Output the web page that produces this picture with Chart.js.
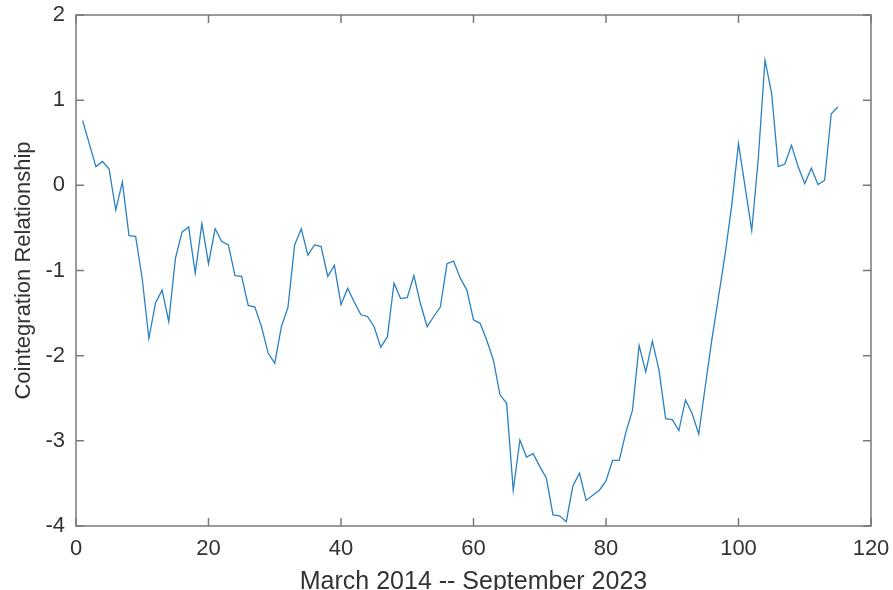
<!DOCTYPE html>
<html>
<head>
<meta charset="utf-8">
<script src="https://cdn.jsdelivr.net/npm/chart.js@4"></script>
<style>
  html, body { margin: 0; padding: 0; background: #fff; }
  #wrap { width: 893px; height: 590px; }
</style>
</head>
<body>
<div id="wrap"><canvas id="coint" width="893" height="590"></canvas></div>
<script>
// cointegration relationship, one value per observation (March 2014 .. September 2023)
const relation = [
  0.76, 0.49, 0.22, 0.28, 0.19, -0.29, 0.04, -0.59, -0.60, -1.10,
  -1.80, -1.38, -1.23, -1.60, -0.86, -0.55, -0.49, -1.03, -0.45, -0.92,
  -0.51, -0.66, -0.70, -1.06, -1.07, -1.41, -1.43, -1.66, -1.97, -2.09,
  -1.66, -1.43, -0.70, -0.51, -0.82, -0.70, -0.72, -1.07, -0.94, -1.40,
  -1.21, -1.37, -1.52, -1.54, -1.66, -1.90, -1.78, -1.15, -1.33, -1.32,
  -1.06, -1.39, -1.66, -1.54, -1.43, -0.92, -0.89, -1.09, -1.23, -1.58,
  -1.62, -1.82, -2.05, -2.46, -2.56, -3.58, -2.99, -3.19, -3.15, -3.30,
  -3.44, -3.87, -3.88, -3.95, -3.53, -3.38, -3.70, -3.64, -3.58, -3.47,
  -3.23, -3.23, -2.90, -2.64, -1.88, -2.19, -1.83, -2.17, -2.74, -2.75,
  -2.88, -2.52, -2.68, -2.92, -2.35, -1.80, -1.30, -0.80, -0.22, 0.49,
  -0.02, -0.53, 0.33, 1.47, 1.08, 0.22, 0.25, 0.47, 0.22, 0.02,
  0.20, 0.01, 0.06, 0.84, 0.92
];
// observation number on the x axis
const obsIndex = relation.map((_, i) => i + 1);

const xTicks = [0, 20, 40, 60, 80, 100, 120];
const yTicks = [-4, -3, -2, -1, 0, 1, 2];
const xTitle = "March 2014 -- September 2023";
const yTitle = "Cointegration Relationship";

const FONT = "'Liberation Sans', Arial, Helvetica, sans-serif";
const TEXT = "#333333";
const AXIS = "#7a7a7a";

// matlab style box with inward ticks on all four sides
const boxPlugin = {
  id: "matlabBox",
  afterDraw(chart) {
    const { ctx, chartArea: a, scales } = chart;
    const len = 8;
    ctx.save();
    ctx.strokeStyle = AXIS;
    ctx.lineWidth = 1.5;
    ctx.strokeRect(a.left, a.top, a.right - a.left, a.bottom - a.top);
    ctx.beginPath();
    scales.x.ticks.forEach((t) => {
      const px = scales.x.getPixelForValue(t.value);
      ctx.moveTo(px, a.bottom); ctx.lineTo(px, a.bottom - len);
      ctx.moveTo(px, a.top); ctx.lineTo(px, a.top + len);
    });
    scales.y.ticks.forEach((t) => {
      const py = scales.y.getPixelForValue(t.value);
      ctx.moveTo(a.left, py); ctx.lineTo(a.left + len, py);
      ctx.moveTo(a.right, py); ctx.lineTo(a.right - len, py);
    });
    ctx.stroke();
    ctx.restore();
  },
};

// no extra room for overhanging tick labels, the box sits where padding says
function noOverhang(s) {
  s.paddingLeft = 0; s.paddingRight = 0;
  s.paddingTop = 0; s.paddingBottom = 0;
}

new Chart(document.getElementById("coint"), {
  type: "line",
  data: {
    datasets: [{
      data: obsIndex.map((x, i) => ({ x, y: relation[i] })),
      borderColor: "#2a80c4",
      borderWidth: 1.3,
      pointRadius: 0,
      tension: 0,
      fill: false,
    }],
  },
  options: {
    responsive: false,
    animation: false,
    devicePixelRatio: 1,
    layout: { padding: { left: 0, right: 22, top: 15, bottom: 0 } },
    plugins: { legend: { display: false }, tooltip: { enabled: false } },
    scales: {
      x: {
        type: "linear",
        min: 0,
        max: 120,
        afterBuildTicks: (s) => { s.ticks = xTicks.map((v) => ({ value: v })); },
        afterFit: (s) => { s.height = 64; noOverhang(s); },
        grid: { display: false, drawTicks: false },
        border: { display: false },
        ticks: { color: TEXT, padding: 10, font: { family: FONT, size: 22 }, maxRotation: 0 },
        title: {
          display: true,
          text: xTitle,
          color: TEXT,
          font: { family: FONT, size: 25 },
          padding: { top: 0, bottom: -7 },
        },
      },
      y: {
        min: -4,
        max: 2,
        afterBuildTicks: (s) => { s.ticks = yTicks.map((v) => ({ value: v })); },
        afterFit: (s) => { s.width = 76; noOverhang(s); },
        grid: { display: false, drawTicks: false },
        border: { display: false },
        ticks: { color: TEXT, padding: 11, font: { family: FONT, size: 22 } },
        title: {
          display: true,
          text: yTitle,
          color: TEXT,
          font: { family: FONT, size: 22 },
          padding: { top: 11, bottom: 0 },
        },
      },
    },
  },
  plugins: [boxPlugin],
});
</script>
</body>
</html>
